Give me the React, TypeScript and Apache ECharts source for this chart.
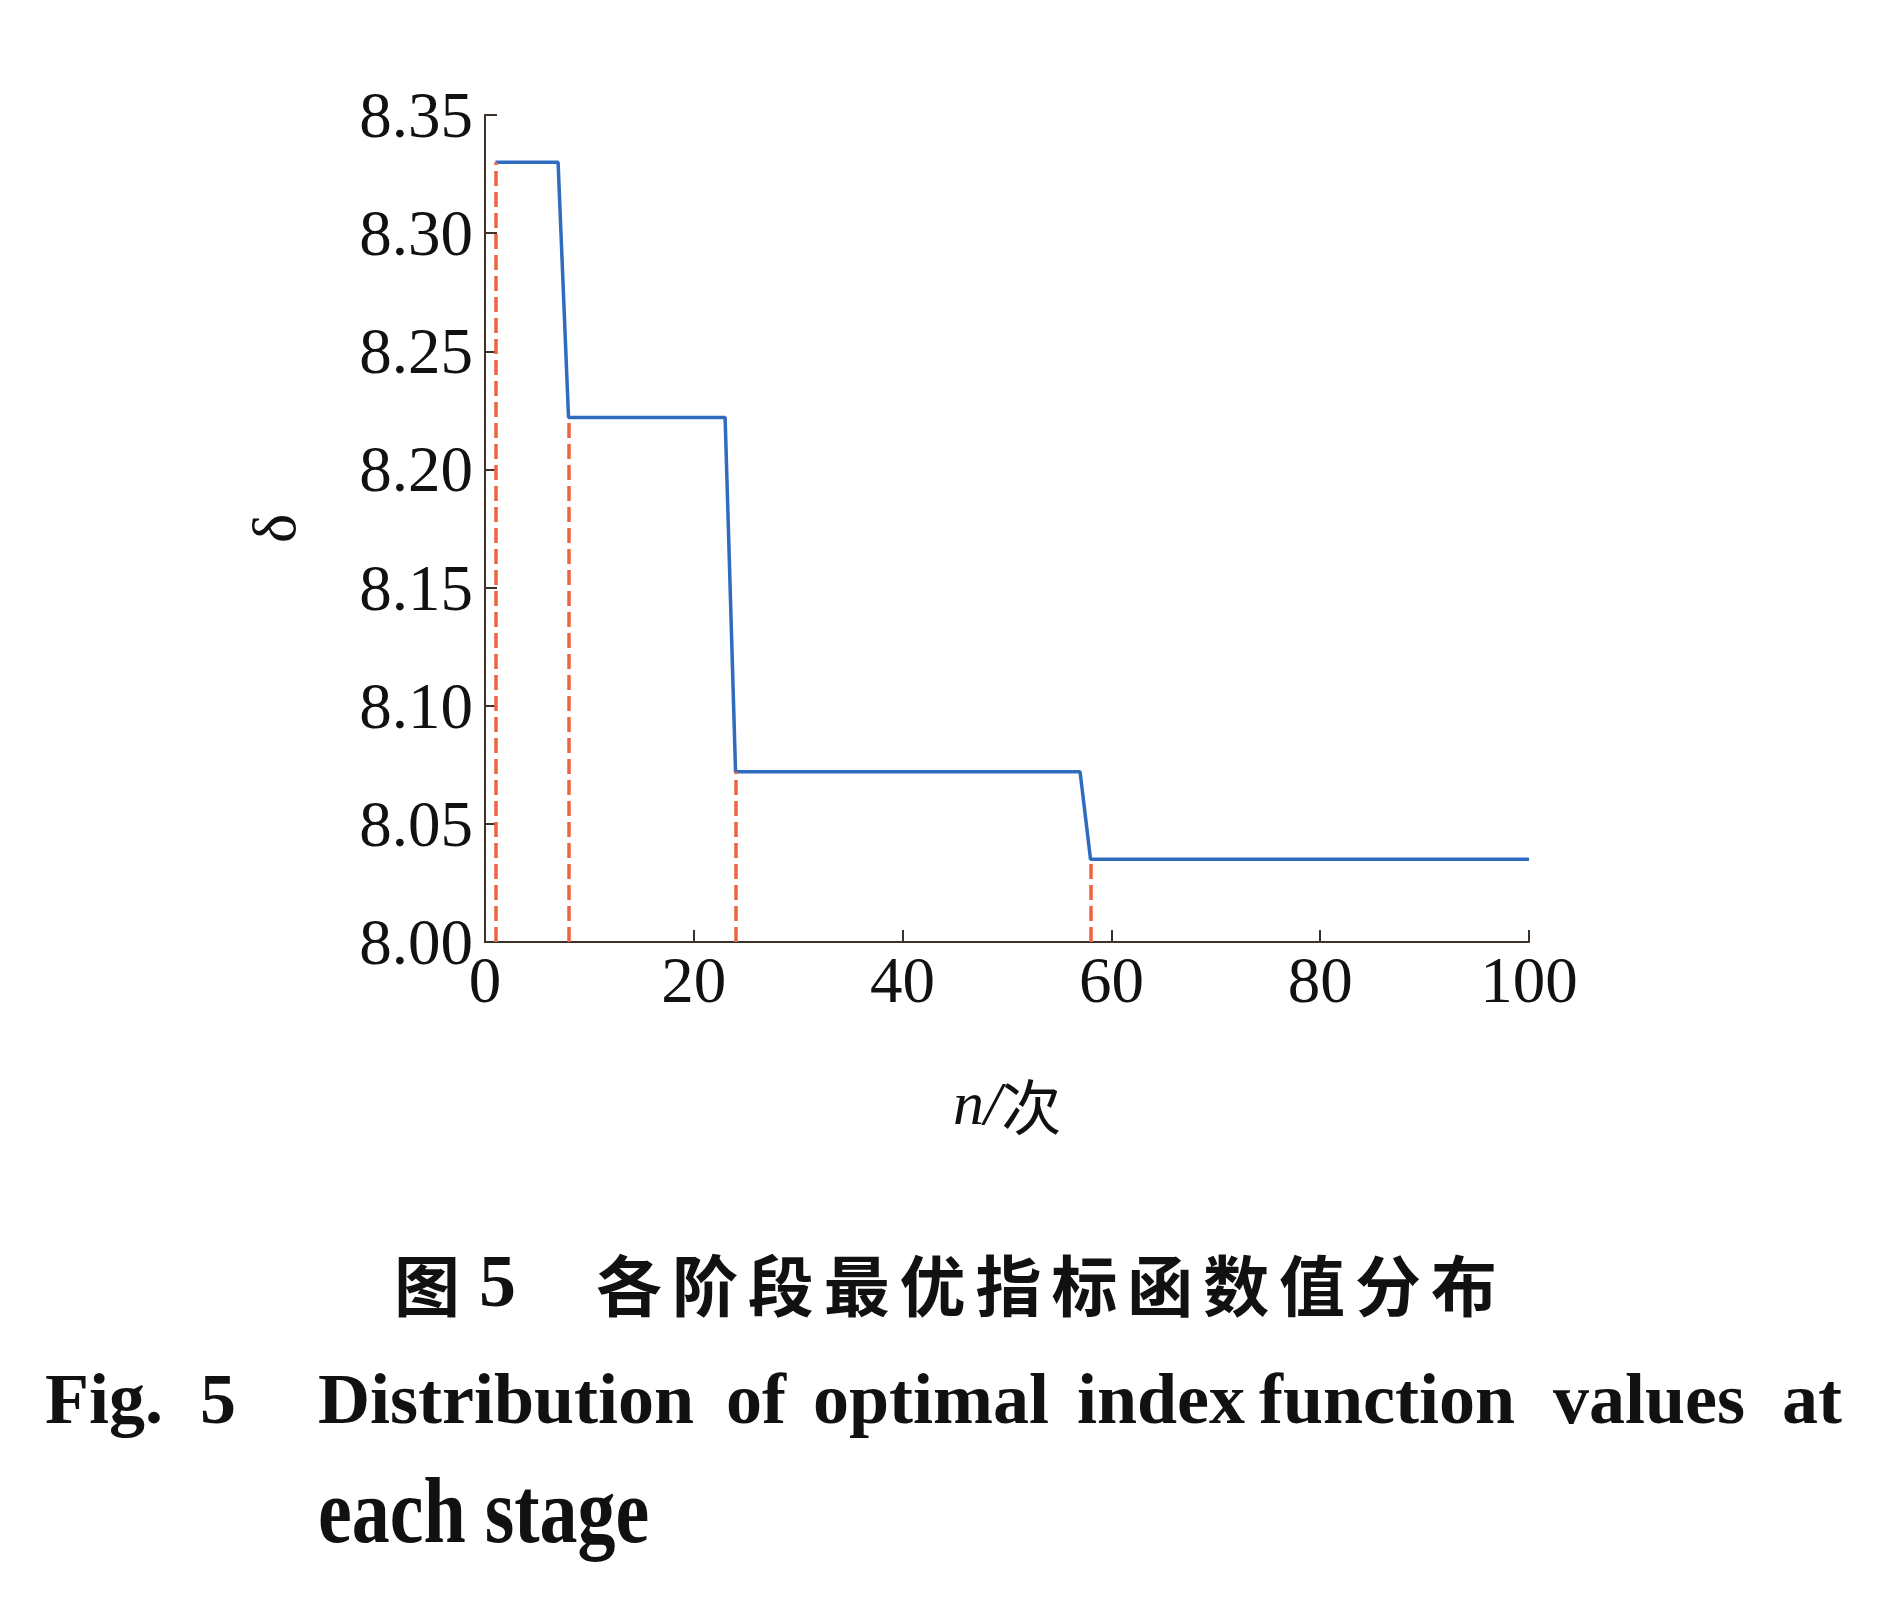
import React, { useEffect, useRef } from "react";
import * as echarts from "echarts";

// Step curve of the optimal index function value δ over iterations n
const stageX = [1, 7, 8, 23, 24, 57, 58, 100];
const stageDelta = [8.33, 8.33, 8.222, 8.222, 8.072, 8.072, 8.035, 8.035];
// Vertical dashed markers where each stage begins
const changeX = [1, 8, 24, 58];
const changeDelta = [8.33, 8.222, 8.072, 8.035];

const captionCnPrefix = "图";
const captionCnNum = "5";
const captionCnText = "各阶段最优指标函数值分布";
const captionEnWords = ["Distribution", "of", "optimal", "index", "function", "values", "at"];
const captionEnLine2 = "each stage";

const SERIF = "'Liberation Serif', 'DejaVu Serif', serif";
const CJK = "'Noto Sans CJK SC', sans-serif";
const AXIS_COLOR = "#3d3129";

export default function App() {
  const ref = useRef<HTMLDivElement>(null);

  useEffect(() => {
    if (!ref.current) return;
    const chart = echarts.init(ref.current, null, { renderer: "svg" });

    const enX = [318, 726, 813, 1077, 1259, 1553, 1782];
    const graphics: any[] = [];
    graphics.push({
      type: "text",
      x: 394,
      y: 1282,
      style: { text: captionCnPrefix, font: `bold 66px ${CJK}`, fill: "#111", textVerticalAlign: "middle" },
    });
    graphics.push({
      type: "text",
      x: 479,
      y: 1281,
      style: { text: captionCnNum, font: `bold 74px ${SERIF}`, fill: "#111", textVerticalAlign: "middle" },
    });
    Array.from(captionCnText).forEach((ch, i) => {
      graphics.push({
        type: "text",
        x: 596 + i * 75.9,
        y: 1282,
        style: { text: ch, font: `bold 66px ${CJK}`, fill: "#111", textVerticalAlign: "middle" },
      });
    });
    graphics.push({
      type: "text",
      x: 45,
      y: 1399,
      style: { text: "Fig.", font: `bold 72px ${SERIF}`, fill: "#111", textVerticalAlign: "middle" },
    });
    graphics.push({
      type: "text",
      x: 200,
      y: 1399,
      style: { text: "5", font: `bold 72px ${SERIF}`, fill: "#111", textVerticalAlign: "middle" },
    });
    captionEnWords.forEach((w, i) => {
      graphics.push({
        type: "text",
        x: enX[i],
        y: 1399,
        style: { text: w, font: `bold 72px ${SERIF}`, fill: "#111", textVerticalAlign: "middle" },
      });
    });
    graphics.push({
      type: "text",
      x: 318,
      y: 1510,
      scaleY: 1.22,
      style: { text: captionEnLine2, font: `bold 76px ${SERIF}`, fill: "#111", textVerticalAlign: "middle" },
    });

    chart.setOption({
      animation: false,
      backgroundColor: "#ffffff",
      grid: { left: 485, top: 115, width: 1044, height: 827, containLabel: false },
      xAxis: {
        type: "value",
        min: 0,
        max: 100,
        interval: 20,
        name: "{i|n}{s|/}{c|次}",
        nameLocation: "middle",
        nameGap: 130,
        nameTextStyle: {
          rich: {
            i: { fontFamily: SERIF, fontStyle: "italic", fontSize: 62, color: "#111" },
            s: { fontFamily: SERIF, fontStyle: "italic", fontSize: 62, color: "#111" },
            c: { fontFamily: CJK, fontSize: 60, color: "#111" },
          },
        },
        axisLine: { show: true, lineStyle: { color: AXIS_COLOR, width: 2 } },
        axisTick: { show: true, inside: true, length: 12, lineStyle: { color: AXIS_COLOR, width: 2 } },
        axisLabel: { fontFamily: SERIF, fontSize: 65, color: "#111", margin: 5 },
        splitLine: { show: false },
      },
      yAxis: {
        type: "value",
        min: 8,
        max: 8.35,
        interval: 0.05,
        name: "δ",
        nameLocation: "middle",
        nameRotate: 90,
        nameGap: 180,
        nameTextStyle: { fontFamily: SERIF, fontSize: 62, color: "#111" },
        axisLine: { show: true, lineStyle: { color: AXIS_COLOR, width: 2 } },
        axisTick: { show: true, inside: true, length: 12, lineStyle: { color: AXIS_COLOR, width: 2 } },
        axisLabel: {
          fontFamily: SERIF,
          fontSize: 65,
          color: "#111",
          margin: 12,
          formatter: (v: number) => v.toFixed(2),
        },
        splitLine: { show: false },
      },
      series: [
        {
          type: "line",
          data: stageX.map((x, i) => [x, stageDelta[i]]),
          showSymbol: false,
          symbol: "none",
          lineStyle: { color: "#2f6bbf", width: 3.5 },
          z: 3,
          markLine: {
            silent: true,
            symbol: ["none", "none"],
            label: { show: false },
            lineStyle: { color: "#ef6440", width: 3.5, type: [15, 6] },
            data: changeX.map((x, i) => [
              { coord: [x, 8] },
              { coord: [x, changeDelta[i]] },
            ]),
          },
        },
      ],
      graphic: graphics,
    });

    return () => chart.dispose();
  }, []);

  return (
    <div
      ref={ref}
      style={{ position: "absolute", left: 0, top: 0, width: 1898, height: 1604, background: "#fff" }}
    />
  );
}
